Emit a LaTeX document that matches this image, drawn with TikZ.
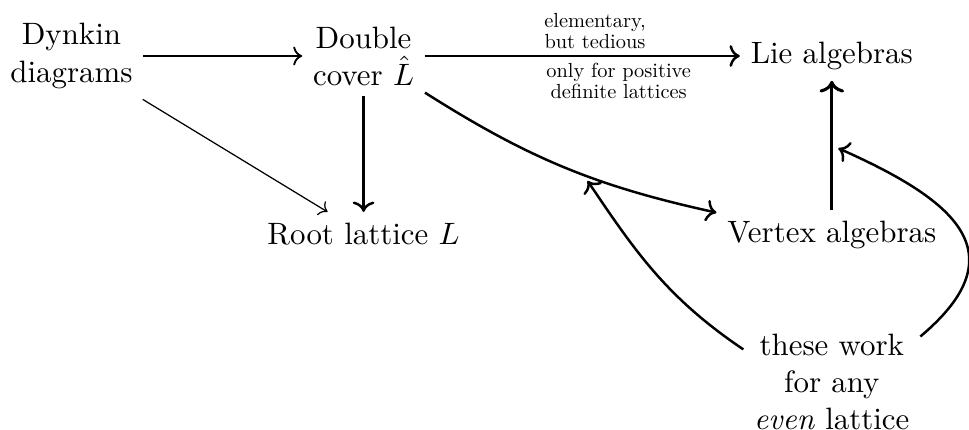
\documentclass[tikz,border=0pt]{standalone}
\usepackage{amsmath,amssymb}
\usetikzlibrary{arrows.meta,positioning,calc}

\begin{document}
\begin{tikzpicture}[
  obj/.style={align=center},
  lbl/.style={align=center, scale=0.66, font=\fontsize{10}{8.5}\selectfont},
  arr/.style={->, thick},
  note/.style={->, thick, shorten >=2.3pt}
]
  \useasboundingbox (0,0) rectangle (11.02,-4.89);
  % top row
  \node[obj] (dynkin) at (0.813,-0.637) {Dynkin\\diagrams};
  \node[obj] (cover) at (4.135,-0.637) {Double\\cover $\hat{L}$};
  \node[obj] (lie) at (9.46,-0.637) {Lie algebras};
  % lower rows
  \node[obj] (root) at (4.135,-2.66) {Root lattice $L$};
  \node[obj] (vertex) at (9.46,-2.67) {Vertex algebras};
  \node[obj] (these) at (9.46,-4.34) {these work\\for any\\\emph{even} lattice};

  % Arrows
  \draw[->, semithick] (dynkin) -- (cover);
  \draw[->, thin] (dynkin) -- (root);
  \draw[arr] (cover) -- (root);
  \draw[arr] (cover) -- node[lbl, above, pos=0.54]{elementary,\\but tedious}
    node[lbl, below, pos=0.615]{only for positive\\definite lattices} (lie);
  \draw[arr] (cover) to[bend right=10] coordinate[pos=0.57] (onva) (vertex);
  \draw[arr, line width=1pt] (vertex) -- coordinate[midway] (onvl) (lie);
  % remarks on the two constructions
  \draw[note] (these.160) to[out=146, in=-56] (onva);
  \draw[note] (these.27) to[out=40, in=-24, looseness=1.6] (onvl);
\end{tikzpicture}
\end{document}
